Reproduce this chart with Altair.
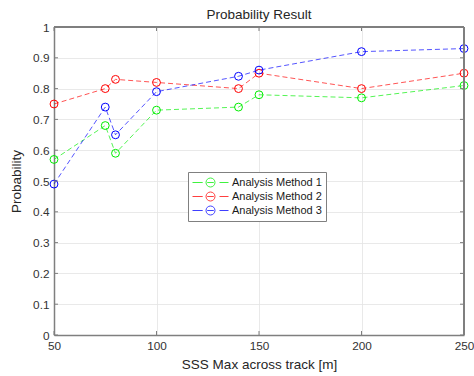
import altair as alt
import pandas as pd

# Sweep of the maximum across-track range (m)
sss_max = [50, 75, 80, 100, 140, 150, 200, 250]

method_1 = [0.57, 0.68, 0.59, 0.73, 0.74, 0.78, 0.77, 0.81]
method_2 = [0.75, 0.80, 0.83, 0.82, 0.80, 0.85, 0.80, 0.85]
method_3 = [0.49, 0.74, 0.65, 0.79, 0.84, 0.86, 0.92, 0.93]

series_names = ["Analysis Method 1", "Analysis Method 2", "Analysis Method 3"]
series_colors = ["#00ee00", "#ff0000", "#0000ff"]

x_ticks = [50, 100, 150, 200, 250]
y_ticks = [0, 0.1, 0.2, 0.3, 0.4, 0.5, 0.6, 0.7, 0.8, 0.9, 1.0]

rows = []
for name, vals in zip(series_names, [method_1, method_2, method_3]):
    for x, y in zip(sss_max, vals):
        rows.append({"x": x, "p": y, "method": name})
df = pd.DataFrame(rows)

W, H = 410, 308
FONT = "Liberation Sans"

# legend glyph: dashed line with an open circle in the middle
glyph = ("M-3,0L-1.3,0M-0.55,0L0.55,0M1.5,0L3,0"
         "M0.75,0A0.75,0.75,0,1,1,-0.75,0A0.75,0.75,0,1,1,0.75,0")

xs = alt.Scale(domain=[50, 250], nice=False)
ys = alt.Scale(domain=[0, 1], nice=False)
cs = alt.Scale(domain=series_names, range=series_colors)

legend = alt.Legend(
    title=None,
    orient="none",
    legendX=134,
    legendY=145,
    symbolType=glyph,
    symbolSize=144,
    symbolStrokeWidth=1,
    symbolOffset=12,
    labelOffset=15,
    symbolFillColor="transparent",
    labelFont=FONT,
    labelFontSize=11,
    labelColor="#1a1a1a",
    rowPadding=1,
    strokeColor="#808080",
    fillColor="white",
    padding=4,
)

axis_common = dict(
    titleFont=FONT,
    titleFontSize=13.5,
    titleFontWeight="normal",
    titleColor="#262626",
    labelFont=FONT,
    labelFontSize=11.8,
    labelColor="#333333",
    labelOverlap=False,
    labelFlush=False,
    tickSize=0,
    domainColor="#7f7f7f",
    domainWidth=1.5,
    gridColor="#e3e3e3",
    gridWidth=0.8,
)
# one axis definition per channel, shared by every layer
x_axis = alt.Axis(values=x_ticks, title="SSS Max across track [m]",
                  titlePadding=6, labelPadding=5, **axis_common)
y_axis = alt.Axis(values=y_ticks, format="~g", title="Probability",
                  titlePadding=9, labelPadding=5, **axis_common)

base = alt.Chart(df)
lines = base.mark_line(strokeDash=[5, 3], strokeWidth=0.9, opacity=0.75).encode(
    x=alt.X("x:Q", scale=xs, axis=x_axis),
    y=alt.Y("p:Q", scale=ys, axis=y_axis),
    color=alt.Color("method:N", scale=cs, legend=legend),
    detail="method:N",
)
points = base.mark_point(shape="circle", filled=False, size=62, strokeWidth=1, opacity=1).encode(
    x=alt.X("x:Q", scale=xs, axis=x_axis),
    y=alt.Y("p:Q", scale=ys, axis=y_axis),
    color=alt.Color("method:N", scale=cs, legend=legend),
)

# inward tick marks on all four sides of the box
xt = pd.DataFrame({"t": x_ticks})
yt = pd.DataFrame({"t": y_ticks})
tick_style = dict(color="#7f7f7f", strokeWidth=1)
tx = alt.X("t:Q", scale=xs, axis=x_axis)
ty = alt.Y("t:Q", scale=ys, axis=y_axis)
xt_bottom = alt.Chart(xt).mark_rule(**tick_style).encode(
    x=tx, y=alt.value(H), y2=alt.value(H - 4))
xt_top = alt.Chart(xt).mark_rule(**tick_style).encode(
    x=tx, y=alt.value(0), y2=alt.value(4))
yt_left = alt.Chart(yt).mark_rule(**tick_style).encode(
    y=ty, x=alt.value(0), x2=alt.value(4))
yt_right = alt.Chart(yt).mark_rule(**tick_style).encode(
    y=ty, x=alt.value(W), x2=alt.value(W - 4))

# top and right edges of the box
box_top = alt.Chart(xt).mark_rule(color="#7f7f7f", strokeWidth=1.5).encode(
    x=alt.value(0), x2=alt.value(W), y=alt.value(0))
box_right = alt.Chart(xt).mark_rule(color="#7f7f7f", strokeWidth=1.5).encode(
    x=alt.value(W), y=alt.value(0), y2=alt.value(H))

chart = alt.layer(
    lines, points, xt_bottom, xt_top, yt_left, yt_right, box_top, box_right
).properties(
    width=W,
    height=H,
    title=alt.Title("Probability Result", font=FONT, fontSize=13.5,
                    fontWeight="normal", color="#262626", offset=1),
    autosize=alt.AutoSizeParams(type="none"),
    padding={"left": 54, "top": 27, "right": 10, "bottom": 41},
).configure_view(stroke=None).configure(background="white")

chart.save("out.html", embed_options={"renderer": "svg", "actions": False})
